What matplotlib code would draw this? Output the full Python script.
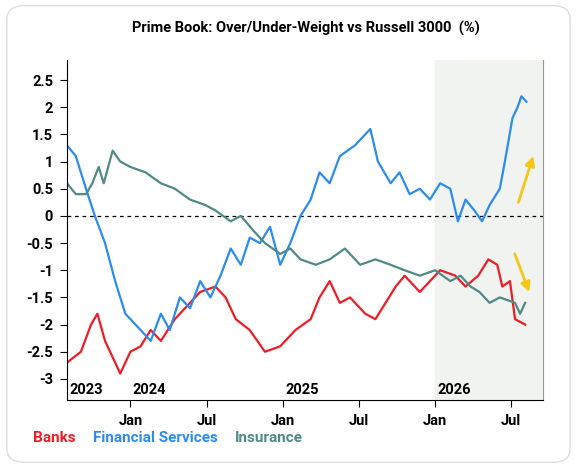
import matplotlib
matplotlib.use("Agg")
import matplotlib.pyplot as plt
from matplotlib.patches import FancyBboxPatch
plt.rcParams['font.family'] = ['Roboto', 'DejaVu Sans']

# x = months since Jan 2023
fs_x = [7.0,7.7,8.5,9.2,10.0,10.8,11.6,12.8,13.6,14.4,15.1,15.9,16.7,17.5,18.3,19.1,19.9,20.7,21.4,22.2,23.0,23.8,24.6,25.4,26.2,26.9,27.7,28.5,29.7,30.9,31.5,32.5,33.2,34.0,34.8,35.6,36.4,37.2,37.8,38.4,39.1,39.7,40.3,41.1,41.5,42.1,42.5,42.8,43.2]
fs_y = [1.3,1.1,0.5,0.0,-0.5,-1.2,-1.8,-2.1,-2.3,-1.8,-2.1,-1.5,-1.7,-1.2,-1.5,-1.1,-0.6,-0.9,-0.4,-0.5,-0.2,-0.9,-0.5,0.0,0.3,0.8,0.6,1.1,1.3,1.6,1.0,0.6,0.8,0.4,0.5,0.3,0.6,0.5,-0.1,0.3,0.1,-0.1,0.2,0.5,1.0,1.8,2.0,2.2,2.1]

ins_x = [7.0,7.7,8.5,9.0,9.5,9.9,10.6,11.2,12.0,13.2,14.4,15.5,16.7,17.9,18.7,19.9,20.7,21.8,22.6,23.8,24.6,25.4,26.6,27.7,28.9,30.1,31.3,32.5,33.6,34.8,36.0,37.2,38.0,38.8,39.5,40.3,41.1,42.3,42.7,43.1]
ins_y = [0.6,0.4,0.4,0.6,0.9,0.6,1.2,1.0,0.9,0.8,0.6,0.5,0.3,0.2,0.1,-0.1,0.0,-0.3,-0.5,-0.7,-0.6,-0.8,-0.9,-0.8,-0.6,-0.9,-0.8,-0.9,-1.0,-1.1,-1.0,-1.2,-1.1,-1.3,-1.4,-1.6,-1.5,-1.6,-1.8,-1.6]

bk_x = [7.0,8.1,8.9,9.4,10.0,10.4,11.2,12.0,12.8,13.6,14.4,15.5,16.3,17.5,18.7,19.5,20.3,21.4,22.6,23.8,25.0,26.2,26.9,27.7,28.5,29.3,30.5,31.3,32.1,32.9,33.6,34.8,35.6,36.4,37.6,38.4,39.4,40.2,40.9,41.3,41.9,42.3,43.1]
bk_y = [-2.7,-2.5,-2.0,-1.8,-2.3,-2.5,-2.9,-2.5,-2.4,-2.1,-2.3,-1.9,-1.7,-1.4,-1.3,-1.5,-1.9,-2.1,-2.5,-2.4,-2.1,-1.9,-1.5,-1.2,-1.6,-1.5,-1.8,-1.9,-1.6,-1.3,-1.1,-1.4,-1.2,-1.0,-1.1,-1.3,-1.1,-0.8,-0.9,-1.3,-1.2,-1.9,-2.0]

month_ticks = [12,18,24,30,36,42]
month_labels = ["Jan","Jul","Jan","Jul","Jan","Jul"]
year_pos = [7.2,12.2,24.2,36.2]
year_labels = ["2023","2024","2025","2026"]
yticks = [2.5,2,1.5,1,0.5,0,-0.5,-1,-1.5,-2,-2.5,-3]

red, blue, teal = "#ee1c25", "#2b8cf0", "#4f8a84"

fig = plt.figure(figsize=(5.77,4.68), dpi=100)
bg = FancyBboxPatch((0.012,0.012),0.976,0.976,boxstyle="round,pad=0,rounding_size=0.03",
    transform=fig.transFigure, fc="white", ec="#dddddd", lw=1, zorder=-10)
fig.patches.append(bg)
ax = fig.add_axes([0.116,0.145,0.825,0.727])
ax.patch.set_alpha(0)
ax.axvspan(36,44.5,color="#f1f3f1",zorder=0)
ax.axhline(0,color="black",ls=(0,(3,3)),lw=0.9)
ax.plot(bk_x,bk_y,color=red,lw=1.6)
ax.plot(fs_x,fs_y,color=blue,lw=1.6)
ax.plot(ins_x,ins_y,color=teal,lw=1.6)
ax.set_xlim(7.0,44.5); ax.set_ylim(-3.39,2.87)
ax.set_xticks(month_ticks); ax.set_xticklabels(month_labels,fontweight="bold",fontsize=10.5)
ax.set_yticks(yticks); ax.set_yticklabels([f"{v:g}" for v in yticks],fontweight="bold",fontsize=10.5)
ax.tick_params(length=5,pad=5)
ax.spines["top"].set_visible(False)
ax.spines["right"].set_color("#999999")
for p,l in zip(year_pos,year_labels):
    ax.text(p,-3.33,l,fontweight="bold",fontsize=10.5,va="bottom")
ax.annotate("",xy=(43.8,1.15),xytext=(42.5,0.2),arrowprops=dict(arrowstyle="-|>",color="#f5c518",lw=2,mutation_scale=14))
ax.annotate("",xy=(43.5,-1.45),xytext=(42.2,-0.65),arrowprops=dict(arrowstyle="-|>",color="#f5c518",lw=2,mutation_scale=14))
fig.text(0.53,0.93,"Prime Book: Over/Under-Weight vs Russell 3000  (%)",ha="center",fontweight="bold",fontsize=10.5)
fig.text(0.057,0.055,"Banks",color=red,fontweight="bold",fontsize=11)
fig.text(0.162,0.055,"Financial Services",color=blue,fontweight="bold",fontsize=11)
fig.text(0.407,0.055,"Insurance",color=teal,fontweight="bold",fontsize=11)
fig.savefig("out.png",dpi=100)
